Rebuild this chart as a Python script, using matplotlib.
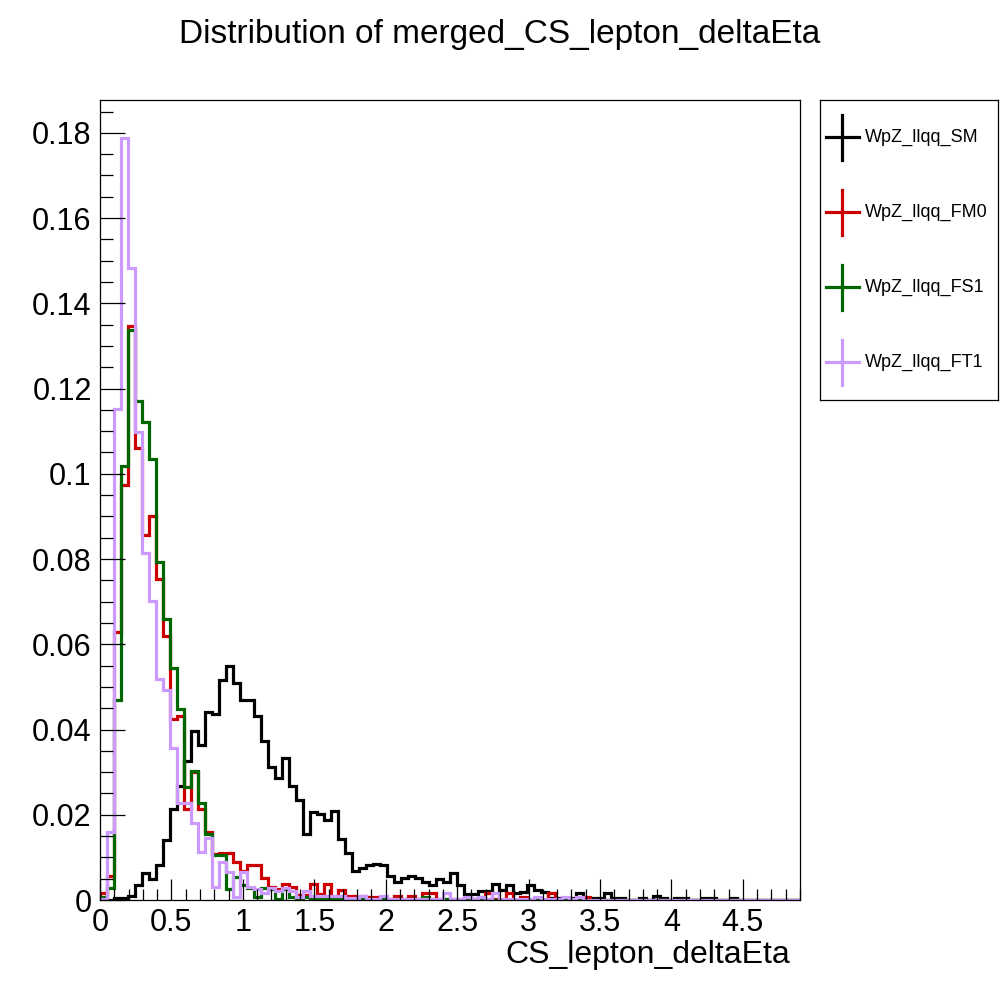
import numpy as np
import matplotlib
matplotlib.use("Agg")
import matplotlib.pyplot as plt
from matplotlib.ticker import MultipleLocator, FuncFormatter

plt.rcParams['font.family'] = ['Liberation Sans', 'DejaVu Sans']

# histogram binning: 100 bins between 0 and 4.9
x_lo, x_hi, n_bins = 0.0, 4.9, 100

# bin contents (normalised)
sm = [
    0.0, 0.0, 0.0004, 0.0004, 0.0009, 0.0035, 0.0064, 0.0049, 0.0082, 0.0141,
    0.0213, 0.0268, 0.0326, 0.0397, 0.0364, 0.0440, 0.0436, 0.0516, 0.0548, 0.0509,
    0.0469, 0.0469, 0.0432, 0.0374, 0.0311, 0.0286, 0.0334, 0.0268, 0.0235, 0.0154,
    0.0207, 0.0202, 0.0188, 0.0209, 0.0142, 0.0110, 0.0068, 0.0076, 0.0082, 0.0084,
    0.0082, 0.0056, 0.0042, 0.0051, 0.0056, 0.0051, 0.0043, 0.0035, 0.0049, 0.0043,
    0.0063, 0.0035, 0.0014, 0.0014, 0.0022, 0.0022, 0.0037, 0.0023, 0.0035, 0.0016,
    0.0018, 0.0035, 0.0023, 0.0018, 0.0004, 0.0004, 0.0, 0.0004, 0.0016, 0.0005,
    0.0005, 0.0005, 0.0016, 0.0005, 0.0005, 0.0, 0.0, 0.0005, 0.0, 0.0010,
    0.0005, 0.0, 0.0005, 0.0005, 0.0, 0.0, 0.0005, 0.0005, 0.0, 0.0,
    0.0004, 0.0, 0.0, 0.0, 0.0, 0.0, 0.0, 0.0, 0.0, 0.0,
]
fm0 = [
    0.0016, 0.0057, 0.0628, 0.0973, 0.1347, 0.1060, 0.0856, 0.0901, 0.0753, 0.0620,
    0.0425, 0.0432, 0.0213, 0.0300, 0.0213, 0.0160, 0.0108, 0.0111, 0.0111, 0.0090,
    0.0069, 0.0082, 0.0082, 0.0051, 0.0030, 0.0025, 0.0037, 0.0031, 0.0012, 0.0012,
    0.0038, 0.0014, 0.0038, 0.0005, 0.0023, 0.0010, 0.0010, 0.0010, 0.0008, 0.0008,
    0.0, 0.0003, 0.0010, 0.0003, 0.0010, 0.0003, 0.0016, 0.0016, 0.0003, 0.0003,
    0.0003, 0.0003, 0.0, 0.0003, 0.0, 0.0016, 0.0003, 0.0003, 0.0016, 0.0,
    0.0008, 0.0, 0.0, 0.0, 0.0016, 0.0, 0.0, 0.0, 0.0, 0.0008,
    0.0, 0.0, 0.0, 0.0, 0.0, 0.0, 0.0, 0.0, 0.0, 0.0,
    0.0, 0.0, 0.0, 0.0, 0.0, 0.0, 0.0, 0.0, 0.0, 0.0,
    0.0, 0.0, 0.0, 0.0, 0.0, 0.0, 0.0, 0.0, 0.0, 0.0,
]
fs1 = [
    0.0008, 0.0027, 0.0469, 0.1018, 0.1338, 0.1171, 0.1121, 0.1034, 0.0792, 0.0659,
    0.0544, 0.0448, 0.0266, 0.0303, 0.0227, 0.0156, 0.0106, 0.0106, 0.0025, 0.0053,
    0.0035, 0.0027, 0.0006, 0.0027, 0.0025, 0.0002, 0.0025, 0.0008, 0.0001, 0.0008,
    0.0003, 0.0003, 0.0003, 0.0003, 0.0003, 0.0002, 0.0002, 0.0002, 0.0002, 0.0002,
    0.0002, 0.0, 0.0002, 0.0, 0.0002, 0.0, 0.0008, 0.0002, 0.0, 0.0003,
    0.0, 0.0, 0.0, 0.0003, 0.0, 0.0, 0.0, 0.0, 0.0, 0.0,
    0.0, 0.0, 0.0, 0.0, 0.0, 0.0, 0.0, 0.0, 0.0, 0.0,
    0.0, 0.0, 0.0, 0.0, 0.0, 0.0, 0.0, 0.0, 0.0, 0.0,
    0.0, 0.0, 0.0, 0.0, 0.0, 0.0, 0.0, 0.0, 0.0, 0.0,
    0.0, 0.0, 0.0, 0.0, 0.0, 0.0, 0.0, 0.0, 0.0, 0.0,
]
ft1 = [
    0.0003, 0.0160, 0.1151, 0.1788, 0.1483, 0.1097, 0.0814, 0.0702, 0.0518, 0.0493,
    0.0356, 0.0227, 0.0227, 0.0180, 0.0113, 0.0145, 0.0031, 0.0090, 0.0066, 0.0008,
    0.0066, 0.0031, 0.0025, 0.0016, 0.0027, 0.0020, 0.0027, 0.0020, 0.0008, 0.0020,
    0.0010, 0.0010, 0.0010, 0.0010, 0.0010, 0.0004, 0.0004, 0.0010, 0.0002, 0.0002,
    0.0010, 0.0002, 0.0002, 0.0002, 0.0002, 0.0002, 0.0002, 0.0002, 0.0002, 0.0016,
    0.0002, 0.0002, 0.0008, 0.0002, 0.0008, 0.0002, 0.0016, 0.0002, 0.0002, 0.0002,
    0.0002, 0.0002, 0.0008, 0.0002, 0.0002, 0.0002, 0.0008, 0.0002, 0.0008, 0.0,
    0.0, 0.0, 0.0, 0.0, 0.0, 0.0, 0.0, 0.0, 0.0, 0.0,
    0.0, 0.0, 0.0, 0.0, 0.0, 0.0, 0.0, 0.0, 0.0, 0.0,
    0.0, 0.0, 0.0, 0.0, 0.0, 0.0, 0.0, 0.0, 0.0, 0.0,
]

names = ['WpZ_llqq_SM', 'WpZ_llqq_FM0', 'WpZ_llqq_FS1', 'WpZ_llqq_FT1']
series = [sm, fm0, fs1, ft1]
colors = ['#000000', '#cc0000', '#006600', '#cc99ff']

title = 'Distribution of merged_CS_lepton_deltaEta'
xlabel = 'CS_lepton_deltaEta'

edges = np.linspace(x_lo, x_hi, n_bins + 1)

fig = plt.figure(figsize=(10, 10), dpi=100)
ax = fig.add_axes([0.1, 0.1, 0.7, 0.8])

for vals, col in zip(series, colors):
    ax.stairs(vals, edges, color=col, lw=2.3, baseline=0)

ax.set_xlim(x_lo, x_hi)
ax.set_ylim(0, 0.1877)

# ROOT-like axes: ticks inside, no trailing zeros
ax.xaxis.set_major_locator(MultipleLocator(0.5))
ax.xaxis.set_minor_locator(MultipleLocator(0.1))
ax.yaxis.set_major_locator(MultipleLocator(0.02))
ax.yaxis.set_minor_locator(MultipleLocator(0.005))
fmt = FuncFormatter(lambda v, p: f'{round(v, 6):g}')
ax.xaxis.set_major_formatter(fmt)
ax.yaxis.set_major_formatter(fmt)
ax.tick_params(axis='both', which='both', direction='in', top=False, right=False,
               width=0.9, labelsize=22)
ax.tick_params(axis='y', which='major', length=18, pad=6)
ax.tick_params(axis='y', which='minor', length=9)
ax.tick_params(axis='x', which='major', length=15, pad=6)
ax.tick_params(axis='x', which='minor', length=8)
for sp in ax.spines.values():
    sp.set_linewidth(0.9)

fig.text(0.5, 0.966, title, ha='center', va='center', fontsize=24)
fig.text(0.79, 0.045, xlabel, ha='right', va='center', fontsize=23)

# legend box drawn by hand (error-bar style crosses)
lax = fig.add_axes([0.82, 0.6, 0.178, 0.3])
lax.set_xlim(0, 178)
lax.set_ylim(300, 0)
lax.set_xticks([])
lax.set_yticks([])
for sp in lax.spines.values():
    sp.set_linewidth(0.9)
for i, (name, col) in enumerate(zip(names, colors)):
    yc = 37 + 75 * i
    lax.plot([6, 38.7], [yc, yc], color=col, lw=2.3)
    lax.plot([22.3, 22.3], [yc - 22, yc + 23], color=col, lw=2.3)
    lax.text(45, yc, name, ha='left', va='center', fontsize=13)

fig.savefig('out.png', dpi=100)
